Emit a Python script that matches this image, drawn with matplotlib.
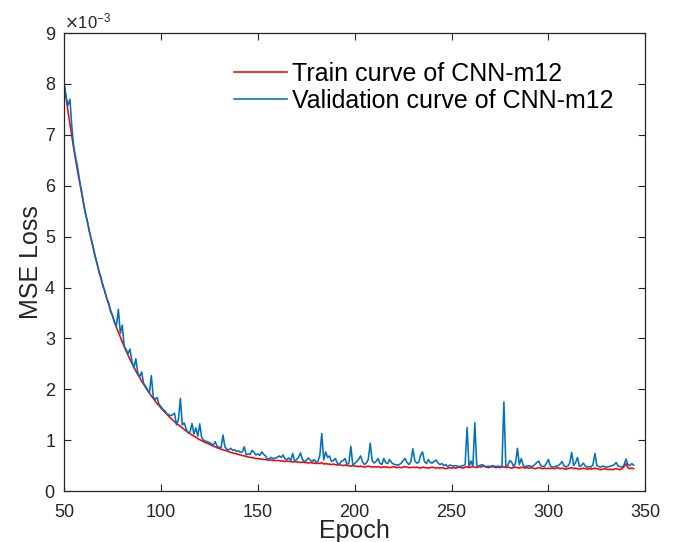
import matplotlib
matplotlib.use("Agg")
import matplotlib.pyplot as plt
import numpy as np

plt.rcParams['font.family'] = ['Liberation Sans', 'DejaVu Sans']

# MSE loss values, in units of 1e-3, one per epoch starting at epoch 50
train_loss = [
    8.00, 7.73, 7.46, 7.21, 6.96, 6.72, 6.49, 6.27, 6.06, 5.86,
    5.66, 5.47, 5.29, 5.11, 4.94, 4.78, 4.62, 4.47, 4.32, 4.18,
    4.05, 3.92, 3.79, 3.67, 3.55, 3.44, 3.33, 3.22, 3.12, 3.03,
    2.93, 2.84, 2.75, 2.67, 2.59, 2.51, 2.44, 2.36, 2.29, 2.23,
    2.16, 2.10, 2.04, 1.98, 1.93, 1.87, 1.82, 1.77, 1.72, 1.68,
    1.63, 1.59, 1.55, 1.51, 1.47, 1.43, 1.40, 1.36, 1.33, 1.30,
    1.27, 1.24, 1.21, 1.18, 1.15, 1.13, 1.10, 1.08, 1.06, 1.03,
    1.01, 0.99, 0.97, 0.95, 0.94, 0.92, 0.90, 0.88, 0.87, 0.85,
    0.84, 0.82, 0.81, 0.80, 0.79, 0.77, 0.76, 0.75, 0.74, 0.73,
    0.72, 0.71, 0.70, 0.69, 0.68, 0.67, 0.66, 0.66, 0.65, 0.64,
    0.64, 0.63, 0.63, 0.62, 0.62, 0.61, 0.61, 0.61, 0.60, 0.60,
    0.60, 0.60, 0.59, 0.59, 0.58, 0.59, 0.58, 0.58, 0.57, 0.58,
    0.57, 0.57, 0.56, 0.57, 0.56, 0.56, 0.55, 0.56, 0.55, 0.55,
    0.54, 0.55, 0.54, 0.56, 0.53, 0.54, 0.53, 0.53, 0.52, 0.53,
    0.52, 0.51, 0.52, 0.51, 0.50, 0.51, 0.50, 0.50, 0.49, 0.50,
    0.49, 0.49, 0.48, 0.49, 0.48, 0.47, 0.48, 0.49, 0.48, 0.47,
    0.48, 0.47, 0.48, 0.47, 0.46, 0.48, 0.47, 0.47, 0.46, 0.47,
    0.48, 0.47, 0.46, 0.47, 0.46, 0.47, 0.48, 0.47, 0.46, 0.46,
    0.47, 0.46, 0.47, 0.46, 0.45, 0.47, 0.46, 0.46, 0.45, 0.46,
    0.47, 0.46, 0.45, 0.46, 0.45, 0.46, 0.45, 0.44, 0.45, 0.46,
    0.45, 0.46, 0.45, 0.46, 0.47, 0.46, 0.45, 0.47, 0.48, 0.46,
    0.47, 0.48, 0.47, 0.46, 0.48, 0.47, 0.49, 0.48, 0.47, 0.46,
    0.47, 0.48, 0.47, 0.46, 0.47, 0.46, 0.47, 0.48, 0.46, 0.47,
    0.46, 0.45, 0.46, 0.47, 0.46, 0.45, 0.47, 0.46, 0.45, 0.46,
    0.45, 0.46, 0.45, 0.44, 0.45, 0.46, 0.45, 0.44, 0.45, 0.44,
    0.45, 0.44, 0.45, 0.44, 0.45, 0.46, 0.44, 0.45, 0.44, 0.43,
    0.44, 0.45, 0.46, 0.44, 0.45, 0.44, 0.43, 0.44, 0.45, 0.44,
    0.43, 0.44, 0.43, 0.44, 0.45, 0.44, 0.43, 0.42, 0.43, 0.44,
    0.43, 0.42, 0.43, 0.42, 0.43, 0.44, 0.43, 0.42, 0.44, 0.48,
    0.54, 0.46, 0.44, 0.45, 0.44,
]

val_loss = [
    8.00, 7.75, 7.58, 7.70, 7.15, 6.75, 6.55, 6.35, 6.10, 5.90,
    5.65, 5.45, 5.30, 5.10, 4.95, 4.80, 4.60, 4.48, 4.30, 4.20,
    4.03, 3.93, 3.78, 3.70, 3.52, 3.45, 3.30, 3.25, 3.57, 3.10,
    3.26, 2.85, 2.78, 2.70, 2.79, 2.55, 2.42, 2.60, 2.32, 2.25,
    2.34, 2.12, 2.06, 2.00, 1.92, 2.27, 1.85, 1.80, 1.84, 1.70,
    1.66, 1.60, 1.58, 1.52, 1.50, 1.48, 1.50, 1.53, 1.30, 1.40,
    1.82, 1.30, 1.34, 1.22, 1.14, 1.16, 1.33, 1.12, 1.24, 1.08,
    1.32, 1.05, 1.00, 0.98, 0.97, 0.95, 0.93, 0.90, 0.97, 0.88,
    0.86, 0.85, 1.10, 0.87, 0.82, 0.81, 0.84, 0.80, 0.81, 0.78,
    0.79, 0.76, 0.77, 0.87, 0.71, 0.73, 0.72, 0.80, 0.76, 0.71,
    0.73, 0.70, 0.77, 0.72, 0.69, 0.62, 0.64, 0.66, 0.63, 0.65,
    0.66, 0.69, 0.66, 0.71, 0.63, 0.62, 0.65, 0.60, 0.74, 0.58,
    0.62, 0.66, 0.75, 0.62, 0.58, 0.60, 0.65, 0.61, 0.58, 0.62,
    0.57, 0.58, 0.70, 1.13, 0.61, 0.77, 0.66, 0.69, 0.58, 0.60,
    0.64, 0.55, 0.52, 0.58, 0.60, 0.64, 0.52, 0.55, 0.88, 0.51,
    0.54, 0.58, 0.62, 0.69, 0.58, 0.52, 0.55, 0.62, 0.94, 0.60,
    0.55, 0.58, 0.64, 0.55, 0.52, 0.64, 0.56, 0.54, 0.62, 0.56,
    0.53, 0.52, 0.51, 0.52, 0.55, 0.60, 0.64, 0.56, 0.52, 0.58,
    0.83, 0.60, 0.55, 0.56, 0.70, 0.77, 0.58, 0.54, 0.62, 0.56,
    0.55, 0.58, 0.61, 0.55, 0.52, 0.54, 0.50, 0.52, 0.48, 0.51,
    0.50, 0.49, 0.50, 0.49, 0.48, 0.49, 0.50, 0.52, 1.25, 0.48,
    0.59, 0.48, 1.34, 0.50, 0.49, 0.51, 0.52, 0.49, 0.48, 0.49,
    0.48, 0.50, 0.49, 0.48, 0.49, 0.48, 0.48, 1.75, 0.49, 0.50,
    0.60, 0.57, 0.48, 0.55, 0.84, 0.52, 0.64, 0.50, 0.48, 0.49,
    0.50, 0.48, 0.49, 0.52, 0.56, 0.59, 0.50, 0.48, 0.49, 0.55,
    0.62, 0.49, 0.47, 0.48, 0.49, 0.50, 0.53, 0.58, 0.50, 0.47,
    0.49, 0.55, 0.76, 0.50, 0.56, 0.66, 0.48, 0.50, 0.55, 0.49,
    0.47, 0.48, 0.47, 0.52, 0.74, 0.50, 0.48, 0.47, 0.49, 0.48,
    0.47, 0.48, 0.49, 0.50, 0.52, 0.56, 0.49, 0.48, 0.47, 0.51,
    0.63, 0.52, 0.50, 0.54, 0.51,
]

first_epoch = 50
x_ticks = [50, 100, 150, 200, 250, 300, 350]
y_ticks = [0, 1, 2, 3, 4, 5, 6, 7, 8, 9]  # x 1e-3

epochs = np.arange(first_epoch, first_epoch + len(train_loss))
train_arr = np.array(train_loss) * 1e-3
val_arr = np.array(val_loss) * 1e-3

axis_color = '#262626'

fig = plt.figure(figsize=(6.75, 5.42), dpi=100)
ax = fig.add_axes([0.095, 0.094, 0.861, 0.845])

ax.plot(epochs, train_arr, color='#FF0000', linewidth=1.15, label='Train curve of CNN-m12')
ax.plot(epochs, val_arr, color='#0072BD', linewidth=1.15, label='Validation curve of CNN-m12')

ax.set_xlim(50, 350)
ax.set_ylim(0, 9e-3)
ax.set_xticks(x_ticks)
ax.set_yticks(np.array(y_ticks) * 1e-3)
ax.ticklabel_format(axis='y', style='sci', scilimits=(-3, -3), useMathText=True)
ax.yaxis.get_offset_text().set_fontsize(12)
ax.yaxis.get_offset_text().set_color(axis_color)

ax.tick_params(direction='in', top=True, right=True, length=5, width=0.8,
               color=axis_color, labelcolor=axis_color, labelsize=13)
ax.tick_params(axis='x', pad=9)
ax.tick_params(axis='y', pad=6)
for sp in ax.spines.values():
    sp.set_color(axis_color)
    sp.set_linewidth(0.9)

ax.set_xlabel('Epoch', fontsize=18, color=axis_color, labelpad=-1)
ax.set_ylabel('MSE Loss', fontsize=18, color=axis_color, labelpad=1)

ax.legend(loc='upper right', bbox_to_anchor=(0.945, 0.937), frameon=False, fontsize=18,
          handlelength=2.1, handletextpad=0.2, labelspacing=0.12, borderpad=0,
          borderaxespad=0)

fig.savefig('out.png', dpi=100)
